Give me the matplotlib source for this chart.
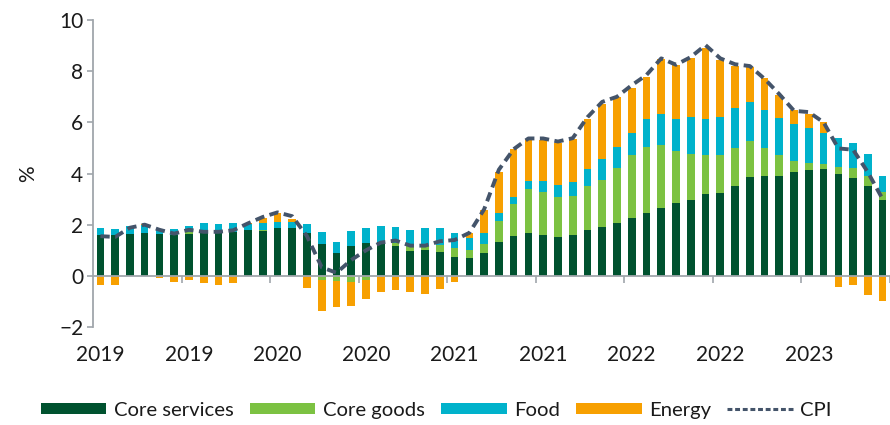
import matplotlib
matplotlib.use("Agg")
import matplotlib.pyplot as plt
import numpy as np
from matplotlib.patches import Patch
from matplotlib.lines import Line2D

plt.rcParams['font.family'] = ['Lato', 'DejaVu Sans']

months = list(range(54))  # Jan 2019 .. Jun 2023
tick_labels = ['2019', '2019', '2020', '2020', '2021', '2021', '2022', '2022', '2023']

core_services = [1.60, 1.60, 1.63, 1.69, 1.63, 1.60, 1.63, 1.67, 1.67, 1.73,
                 1.80, 1.76, 1.86, 1.86, 1.69, 1.24, 0.89, 1.15, 1.30, 1.34,
                 1.15, 0.99, 1.02, 0.95, 0.75, 0.69, 0.89, 1.34, 1.56, 1.69,
                 1.60, 1.51, 1.60, 1.80, 1.90, 2.06, 2.25, 2.47, 2.67, 2.84,
                 2.97, 3.19, 3.23, 3.53, 3.88, 3.90, 3.92, 4.07, 4.12, 4.17,
                 3.98, 3.82, 3.53, 2.97]
core_goods = [0.00, 0.00, 0.00, 0.00, 0.00, 0.00, 0.10, 0.03, 0.03, 0.00,
              0.00, 0.05, 0.00, 0.00, 0.00, -0.15, -0.20, -0.26, -0.16, 0.00,
              0.15, 0.16, 0.13, 0.26, 0.33, 0.33, 0.36, 0.82, 1.25, 1.71,
              1.69, 1.56, 1.52, 1.72, 1.85, 2.15, 2.48, 2.58, 2.45, 2.02,
              1.80, 1.54, 1.50, 1.48, 1.39, 1.11, 0.81, 0.43, 0.28, 0.19,
              0.29, 0.39, 0.39, 0.30]
food = [0.26, 0.24, 0.30, 0.28, 0.21, 0.24, 0.22, 0.36, 0.33, 0.33,
        0.22, 0.25, 0.26, 0.26, 0.33, 0.46, 0.43, 0.61, 0.56, 0.61,
        0.60, 0.65, 0.71, 0.65, 0.59, 0.45, 0.44, 0.29, 0.29, 0.31,
        0.42, 0.48, 0.53, 0.65, 0.81, 0.84, 0.87, 1.07, 1.20, 1.26,
        1.42, 1.39, 1.47, 1.56, 1.54, 1.47, 1.43, 1.42, 1.37, 1.24,
        1.11, 1.00, 0.85, 0.65]
energy = [-0.37, -0.37, 0.00, 0.05, -0.09, -0.25, -0.16, -0.29, -0.37, -0.29,
          0.05, 0.22, 0.35, 0.09, -0.46, -1.24, -1.00, -0.90, -0.74, -0.64,
          -0.55, -0.65, -0.70, -0.51, -0.25, 0.22, 0.89, 1.62, 1.85, 1.63,
          1.60, 1.63, 1.69, 1.96, 2.16, 1.95, 1.73, 1.67, 2.14, 2.12,
          2.34, 2.77, 2.24, 1.63, 1.34, 1.24, 0.91, 0.56, 0.56, 0.43,
          -0.44, -0.35, -0.74, -1.00]
cpi = [1.55, 1.52, 1.88, 2.00, 1.80, 1.65, 1.80, 1.72, 1.72, 1.78,
       2.05, 2.30, 2.48, 2.33, 1.55, 0.33, 0.12, 0.62, 1.00, 1.30,
       1.38, 1.18, 1.18, 1.35, 1.40, 1.68, 2.60, 4.15, 4.95, 5.37,
       5.37, 5.25, 5.38, 6.20, 6.80, 7.00, 7.45, 7.85, 8.50, 8.25,
       8.55, 9.02, 8.50, 8.27, 8.20, 7.70, 7.10, 6.45, 6.40, 6.00,
       4.98, 4.93, 4.05, 3.00]

series = [("Core services", core_services, "#00522F"),
          ("Core goods", core_goods, "#7CC242"),
          ("Food", food, "#00B2CB"),
          ("Energy", energy, "#F7A001")]

fig = plt.figure(figsize=(8.9, 4.25), dpi=100)
ax = fig.add_axes([93/890, 98/425, 1 - 93/890, 307/425])

x = np.array(months, dtype=float)
pos_base = np.zeros(len(x))
neg_base = np.zeros(len(x))
for name, vals, col in series:
    v = np.array(vals, dtype=float)
    bottom = np.where(v >= 0, pos_base, neg_base)
    ax.bar(x, v, width=0.52, bottom=bottom, color=col, linewidth=0, zorder=2)
    pos_base += np.where(v >= 0, v, 0)
    neg_base += np.where(v < 0, v, 0)

ax.plot(x, cpi, color="#44546A", lw=2.8, linestyle=(0, (2.4, 1.4)),
        zorder=4, solid_capstyle='round')

ax.set_xlim(-0.5, (890 - 93) / 14.86 - 0.5)
ax.set_ylim(-2, 10)

grey = "#A0A6AB"
txt = "#1a1a1a"
for s in ['top', 'right']:
    ax.spines[s].set_visible(False)
ax.spines['left'].set_color(grey)
ax.spines['left'].set_linewidth(1.3)
ax.spines['bottom'].set_position(('data', 0))
ax.spines['bottom'].set_color(grey)
ax.spines['bottom'].set_linewidth(1.3)

ax.set_yticks(range(-2, 11, 2))
ax.tick_params(axis='y', direction='out', length=4, width=1.2, color=grey,
               labelsize=15, labelcolor=txt, pad=3)

label_pos = list(range(0, 54, 6))
ax.set_xticks(label_pos)
ax.set_xticklabels(tick_labels)
ax.set_xticks(np.arange(5.5, 54, 6), minor=True)
ax.tick_params(axis='x', which='major', length=0, pad=50, labelsize=15,
               labelcolor=txt)
ax.tick_params(axis='x', which='minor', direction='out', length=5, width=1.2,
               color=grey)

ax.set_ylabel("%", fontsize=15, color=txt, labelpad=15)

handles = [Patch(facecolor=c, edgecolor='none', label=n) for n, _, c in series]
handles.append(Line2D([0], [0], color="#44546A", lw=2.2,
                      linestyle=(0, (1.6, 0.9)), label="CPI"))
fig.legend(handles=handles, loc='center', bbox_to_anchor=(0.49, 0.035),
           ncol=5, frameon=False, fontsize=14.6, handlelength=3.25,
           handleheight=0.5, handletextpad=0.35, columnspacing=0.8,
           labelcolor=txt)

fig.savefig("out.png", dpi=100)
